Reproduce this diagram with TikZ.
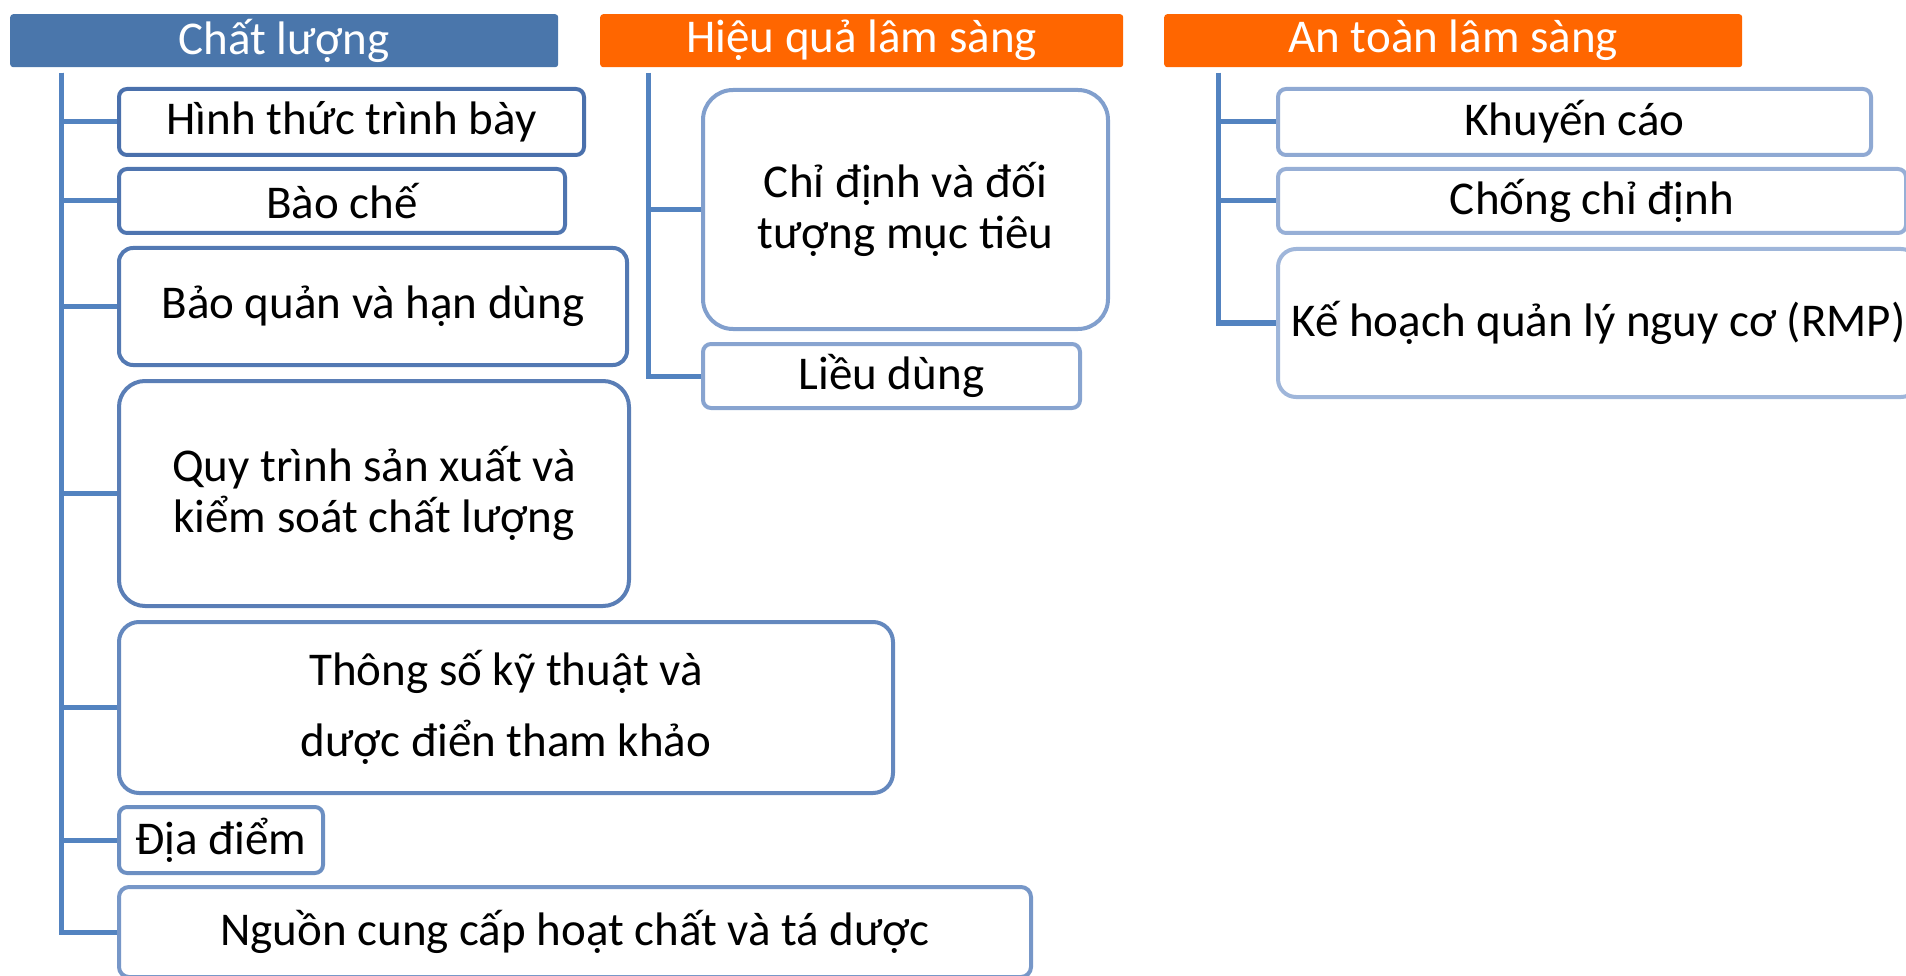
\documentclass[tikz,border=0pt]{standalone}
\usepackage{fontspec}
\setmainfont{Carlito}
\definecolor{headblue}{HTML}{4A76AB}
\definecolor{headorange}{HTML}{FF6600}
\definecolor{linkblue}{HTML}{5383C0}
\definecolor{qone}{RGB}{74,112,172}
\definecolor{qtwo}{RGB}{79,117,176}
\definecolor{qthree}{RGB}{83,121,179}
\definecolor{qfour}{RGB}{90,126,182}
\definecolor{qfive}{RGB}{100,136,190}
\definecolor{qsix}{RGB}{108,143,194}
\definecolor{qseven}{RGB}{119,151,200}
\definecolor{hone}{RGB}{129,159,205}
\definecolor{htwo}{RGB}{136,164,208}
\definecolor{aone}{RGB}{143,169,211}
\definecolor{atwo}{RGB}{151,175,214}
\definecolor{athree}{RGB}{159,182,218}
\tikzset{
  head/.style={anchor=north west, fill=#1, text=white, rounded corners=3pt,
    inner sep=0pt, font=\fontsize{47}{52}\selectfont},
  sub/.style={anchor=north west, draw=#1, line width=4pt, fill=white, text=black,
    inner sep=0pt, align=center, font=\fontsize{47}{51}\selectfont},
  sz/.style 2 args={minimum width=#1pt, minimum height=#2pt},
  conn/.style={draw=linkblue, line width=5pt}
}
\begin{document}
\begin{tikzpicture}[x=1pt,y=1pt]
\useasboundingbox (0,0) rectangle (1906,-976);
\clip (0,0) rectangle (1906,-976);
% headers
\node [head=headblue, sz={548}{53}] (qual) at (10,-14) {Chất lượng};
\node [head=headorange, sz={523}{53}] (eff) at (600,-14) {Hiệu quả lâm sàng};
\node [head=headorange, sz={578}{53}] (safe) at (1164,-14) {An toàn lâm sàng};
% Chat luong
\node [sub=qone, sz={465}{66}, rounded corners=8pt] (q1) at (117,-87) {Hình thức trình bày};
\node [sub=qtwo, sz={446}{64}, rounded corners=8pt] (q2) at (117,-167) {Bào chế};
\node [sub=qthree, sz={508}{117}, rounded corners=14pt] (q3) at (117,-246) {Bảo quản và hạn dùng};
\node [sub=qfour, sz={510}{225}, rounded corners=26pt] (q4) at (117,-379) {Quy trình sản xuất và\\kiểm soát chất lượng};
\node [sub=qfive, sz={774}{171}, rounded corners=20pt] (q5) at (117,-620) {Thông số kỹ thuật và\\[20pt]dược điển tham khảo};
\node [sub=qsix, sz={204}{66}, rounded corners=8pt] (q6) at (117,-805) {Địa điểm};
\node [sub=qseven, sz={912}{90}, rounded corners=10pt] (q7) at (117,-885) {Nguồn cung cấp hoạt chất và tá dược};
% Hieu qua lam sang
\node [sub=hone, sz={405}{239}, rounded corners=30pt] (h1) at (701,-88) {Chỉ định và đối\\tượng mục tiêu};
\node [sub=htwo, sz={377}{64}, rounded corners=8pt] (h2) at (701,-342) {Liều dùng};
% An toan lam sang
\node [sub=aone, sz={593}{66}, rounded corners=8pt] (a1) at (1276,-87) {Khuyến cáo};
\node [sub=atwo, sz={628}{64}, rounded corners=8pt] (a2) at (1276,-167) {Chống chỉ định};
\node [sub=athree, sz={641}{148}, rounded corners=18pt] (a3) at (1276,-247) {Kế hoạch quản lý nguy cơ (RMP)};
% connectors
\coordinate (qtop) at (61,-73);
\coordinate (etop) at (648,-73);
\coordinate (stop) at (1218,-73);
\foreach \n in {q1,q2,q3,q4,q5,q6,q7}
  \draw [conn] (qtop) |- (\n.west);
\foreach \n in {h1,h2}
  \draw [conn] (etop) |- (\n.west);
\foreach \n in {a1,a2,a3}
  \draw [conn] (stop) |- (\n.west);
\end{tikzpicture}
\end{document}
